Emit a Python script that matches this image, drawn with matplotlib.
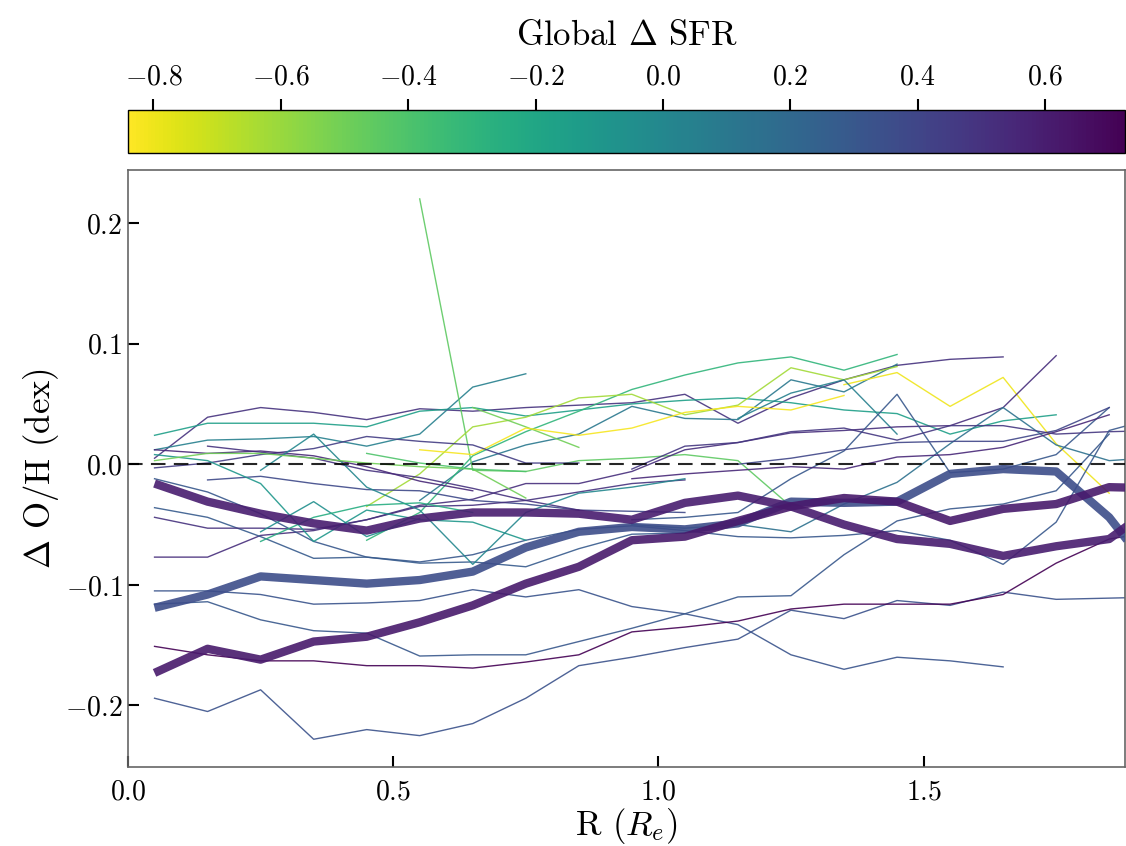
import numpy as np
import matplotlib
matplotlib.use("Agg")
import matplotlib.pyplot as plt
from matplotlib.colors import Normalize
from matplotlib.cm import ScalarMappable

plt.rcParams.update({
    "font.family": "serif",
    "font.serif": ["cmr10"],
    "mathtext.fontset": "cm",
    "axes.formatter.use_mathtext": True,
})

n = np.nan

# radial bins (in units of R_e)
radius = [0.05, 0.15, 0.25, 0.35, 0.45, 0.55, 0.65, 0.75, 0.85, 0.95,
          1.05, 1.15, 1.25, 1.35, 1.45, 1.55, 1.65, 1.75, 1.85, 1.95]

# individual galaxy Delta O/H profiles
gal_01 = [0.005, 0.039, 0.047, 0.043, 0.037, 0.046, 0.044, 0.047, 0.049, 0.051, 0.058, 0.034, 0.055, 0.070, 0.082, 0.087, 0.089, n, n, n]
gal_02 = [0.024, 0.034, 0.034, 0.034, 0.031, 0.044, 0.047, 0.040, 0.045, 0.050, 0.053, 0.055, 0.051, 0.045, 0.042, 0.025, 0.036, 0.041, n, n]
gal_03 = [0.012, 0.020, 0.021, 0.023, 0.015, 0.025, 0.064, 0.075, n, n, n, n, n, n, n, n, n, n, n, n]
gal_04 = [n, n, n, n, n, -0.030, 0.002, 0.016, 0.025, 0.048, 0.038, 0.037, 0.070, 0.060, 0.083, n, n, n, n, n]
gal_05 = [n, n, n, n, n, 0.220, -0.005, -0.006, 0.003, 0.005, 0.008, 0.003, -0.035, n, n, n, n, n, n, n]
gal_06 = [n, n, n, n, -0.063, -0.040, 0.007, 0.027, 0.044, 0.062, 0.074, 0.084, 0.089, 0.078, 0.091, n, n, n, n, n]
gal_07 = [n, n, n, n, -0.035, -0.008, 0.031, 0.039, 0.055, 0.058, 0.041, 0.049, 0.080, 0.070, 0.081, n, n, n, n, n]
gal_08 = [n, n, n, n, n, n, 0.047, 0.031, 0.014, n, n, n, n, n, n, n, n, n, n, n]
gal_09 = [n, n, n, n, n, 0.012, 0.008, 0.030, 0.024, 0.030, 0.043, 0.048, 0.045, 0.057, n, n, n, n, n, n]
gal_10 = [n, n, n, n, n, n, n, n, n, n, n, n, n, 0.066, 0.076, 0.048, 0.072, 0.017, -0.024, n]
gal_11 = [n, n, n, n, n, n, n, n, n, n, n, 0.038, 0.059, 0.070, 0.025, n, n, n, n, n]
gal_12 = [-0.077, -0.077, -0.059, -0.055, -0.046, -0.034, -0.029, -0.016, -0.016, -0.006, 0.012, 0.018, 0.026, 0.028, 0.031, 0.032, 0.047, 0.090, n, n]
gal_13 = [-0.003, 0.001, 0.008, 0.013, 0.023, 0.019, 0.016, 0.001, 0.001, n, n, n, n, n, n, n, n, n, n, n]
gal_14 = [n, n, n, n, n, n, n, n, n, -0.046, -0.044, -0.040, -0.012, 0.011, 0.058, -0.007, -0.004, 0.008, 0.047, n]
gal_15 = [n, n, n, n, n, n, n, n, n, -0.050, -0.053, -0.050, -0.056, -0.033, -0.015, 0.017, 0.047, 0.016, 0.003, 0.006]
gal_16 = [n, n, n, n, n, n, n, n, n, -0.012, -0.008, -0.005, -0.002, -0.004, 0.006, 0.008, 0.014, 0.027, 0.041, n]
gal_17 = [n, n, n, n, n, n, n, n, n, n, n, 0.000, 0.005, 0.012, 0.018, 0.019, 0.019, 0.028, 0.047, n]
gal_18 = [n, n, n, n, n, n, n, n, n, -0.004, 0.015, 0.018, 0.027, 0.030, 0.020, 0.032, 0.032, 0.025, 0.027, 0.028]
gal_19 = [-0.105, -0.105, -0.108, -0.116, -0.115, -0.113, -0.104, -0.110, -0.104, -0.118, -0.124, -0.133, -0.158, -0.170, -0.160, -0.163, -0.168, n, n, n]
gal_20 = [-0.116, -0.114, -0.129, -0.138, -0.140, -0.159, -0.158, -0.158, -0.147, -0.136, -0.124, -0.110, -0.109, -0.075, -0.047, -0.037, -0.033, -0.022, 0.025, n]
gal_21 = [-0.194, -0.205, -0.187, -0.228, -0.220, -0.225, -0.215, -0.194, -0.167, -0.160, -0.152, -0.145, -0.121, -0.128, -0.113, -0.117, -0.106, -0.112, -0.111, -0.110]
gal_22 = [-0.151, -0.158, -0.163, -0.163, -0.167, -0.167, -0.169, -0.164, -0.158, -0.139, -0.135, -0.130, -0.120, -0.116, -0.116, -0.116, -0.108, -0.082, -0.062, -0.055]
gal_23 = [n, -0.013, -0.010, -0.016, -0.021, -0.022, -0.030, -0.033, -0.038, -0.039, -0.040, n, n, n, n, n, n, n, n, n]
gal_24 = [-0.012, -0.023, -0.041, -0.064, -0.077, -0.081, -0.075, -0.063, -0.054, -0.051, -0.055, -0.060, -0.061, -0.059, -0.055, -0.063, -0.083, -0.048, 0.028, 0.040]
gal_25 = [-0.036, -0.044, -0.060, -0.078, -0.077, -0.082, -0.081, -0.085, -0.070, -0.058, -0.057, n, n, n, n, n, n, n, n, n]
gal_26 = [-0.044, -0.053, -0.053, -0.054, -0.046, -0.035, -0.034, -0.030, -0.023, -0.016, -0.013, n, n, n, n, n, n, n, n, n]
gal_27 = [n, 0.015, 0.010, 0.005, -0.005, -0.011, -0.020, -0.030, -0.038, n, n, n, n, n, n, n, n, n, n, n]
gal_28 = [0.012, 0.009, 0.011, 0.007, -0.002, -0.014, -0.022, n, n, n, n, n, n, n, n, n, n, n, n, n]
gal_29 = [0.008, 0.003, -0.016, -0.064, -0.038, -0.046, -0.048, -0.063, n, n, n, n, n, n, n, n, n, n, n, n]
gal_30 = [n, n, -0.005, 0.025, -0.019, -0.038, -0.083, -0.040, -0.024, -0.019, -0.012, n, n, n, n, n, n, n, n, n]
gal_31 = [n, n, -0.056, -0.031, -0.060, -0.045, n, n, n, n, n, n, n, n, n, n, n, n, n, n]
gal_32 = [n, n, -0.064, -0.044, -0.034, -0.032, -0.040, n, n, n, n, n, n, n, n, n, n, n, n, n]
gal_33 = [0.003, 0.009, 0.009, 0.005, 0.001, -0.002, -0.004, -0.028, n, n, n, n, n, n, n, n, n, n, n, n]
gal_34 = [n, n, n, n, 0.009, 0.001, -0.004, -0.006, n, n, n, n, n, n, n, n, n, n, n, n]

# global Delta SFR of each galaxy (same order as above)
gal_dsfr = [0.50, -0.15, 0.05, 0.10, -0.45, -0.30, -0.62, -0.50, -0.82, -0.80,
            0.05, 0.52, 0.45, 0.30, 0.15, 0.55, 0.40, 0.48, 0.32, 0.30,
            0.33, 0.72, 0.38, 0.30, 0.28, 0.50, 0.50, 0.55, -0.10, 0.00,
            -0.05, -0.25, -0.50, -0.40]

# binned median profiles
median_low = [-0.119, -0.108, -0.093, -0.096, -0.099, -0.096, -0.089, -0.069, -0.056, -0.052,
              -0.054, -0.049, -0.031, -0.032, -0.031, -0.008, -0.004, -0.006, -0.044, -0.100]
median_mid = [-0.016, -0.031, -0.041, -0.049, -0.055, -0.045, -0.040, -0.040, -0.041, -0.046,
              -0.032, -0.026, -0.035, -0.050, -0.062, -0.066, -0.076, -0.068, -0.062, -0.030]
median_high = [-0.173, -0.153, -0.162, -0.147, -0.143, -0.131, -0.117, -0.099, -0.085, -0.063,
               -0.060, -0.047, -0.035, -0.028, -0.031, -0.047, -0.037, -0.033, -0.019, -0.020]
median_dsfr = [0.36, 0.60, 0.62]

profiles = [gal_01, gal_02, gal_03, gal_04, gal_05, gal_06, gal_07, gal_08, gal_09, gal_10,
            gal_11, gal_12, gal_13, gal_14, gal_15, gal_16, gal_17, gal_18, gal_19, gal_20,
            gal_21, gal_22, gal_23, gal_24, gal_25, gal_26, gal_27, gal_28, gal_29, gal_30,
            gal_31, gal_32, gal_33, gal_34]
medians = [median_low, median_mid, median_high]

cmap = plt.get_cmap("viridis_r")
norm = Normalize(vmin=-0.84, vmax=0.726)

fig = plt.figure(figsize=(11.26, 8.46), dpi=100)
ax = fig.add_axes([0.1137, 0.0934, 0.8855, 0.7057])
cax = fig.add_axes([0.1137, 0.819, 0.8855, 0.0508])

for prof, s in zip(profiles, gal_dsfr):
    ax.plot(radius, np.array(prof, dtype=float), color=cmap(norm(s)), lw=1.0, alpha=0.9, zorder=2)

for prof, s in zip(medians, median_dsfr):
    ax.plot(radius, prof, color=cmap(norm(s)), lw=6.0, alpha=0.9, zorder=3,
            solid_capstyle="butt")

ax.axhline(0.0, color="k", ls=(0, (7, 4)), lw=1.5, alpha=0.85, zorder=4)

ax.set_xlim(0, 1.88)
ax.set_ylim(-0.251, 0.244)
ax.set_xticks([0.0, 0.5, 1.0, 1.5])
ax.set_yticks([-0.2, -0.1, 0.0, 0.1, 0.2])
ax.tick_params(direction="in", length=8, width=1.5, labelsize=20, top=False, right=False)
ax.tick_params(axis="x", pad=9)
ax.tick_params(axis="y", pad=4)
for sp in ax.spines.values():
    sp.set_color("0.4")
    sp.set_linewidth(1.2)
ax.set_xlabel(r"R ($R_e$)", fontsize=25, labelpad=0)
ax.set_ylabel(r"$\Delta$ O/H (dex)", fontsize=25, labelpad=3)

sm = ScalarMappable(norm=norm, cmap=cmap)
cb = fig.colorbar(sm, cax=cax, orientation="horizontal")
cb.set_ticks([-0.8, -0.6, -0.4, -0.2, 0.0, 0.2, 0.4, 0.6])
cax.xaxis.set_ticks_position("top")
cax.xaxis.set_label_position("top")
cax.tick_params(direction="out", length=8, width=1.5, labelsize=20, pad=6)
cb.outline.set_linewidth(1.0)
cb.set_label(r"Global $\Delta$ SFR", fontsize=25, labelpad=14)

fig.savefig("out.png", dpi=100)
